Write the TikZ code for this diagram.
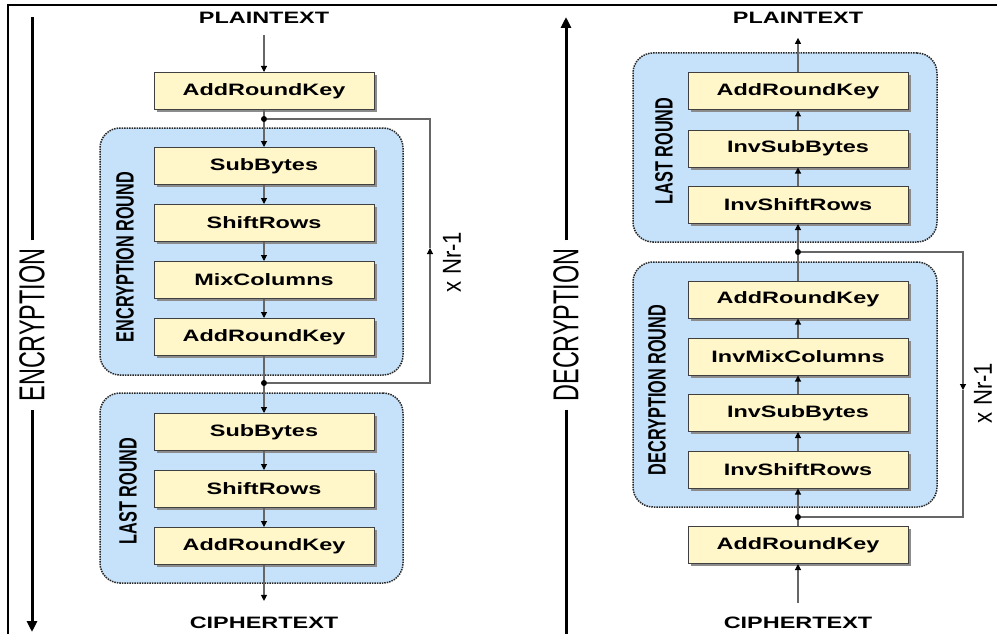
\documentclass[tikz,border=0pt]{standalone}
\usepackage{fontspec}
\setmainfont{Liberation Sans}
\newfontfamily\widefont[FakeStretch=1.42]{Liberation Sans}
\newfontfamily\narrowfont[FakeStretch=0.65]{Liberation Sans}
\newfontfamily\nrfont[FakeStretch=0.85]{Liberation Sans}
\usepackage{tikz}
\usetikzlibrary{arrows.meta,shadows}
\definecolor{stepfill}{HTML}{FFF6CA}
\definecolor{roundfill}{HTML}{C6E2FA}
\tikzset{
    Stepbox/.style = {draw=black!75, line width=1pt, fill=stepfill,
        minimum width=220pt, minimum height=37pt, inner sep=0pt,
        font=\widefont\bfseries\fontsize{16.5}{16.5}\selectfont,
        drop shadow={shadow xshift=2.5pt, shadow yshift=-2.5pt, fill=black!45, opacity=1}},
    Round/.style = {draw=black!85, fill=roundfill, densely dotted, line width=1.5pt,
        rounded corners=20pt, inner sep=0pt},
    Line/.style = {draw=black!60, line width=1.1pt},
    Flow/.style = {Line, -{Triangle[length=6pt,width=6pt,color=black]}},
    Junction/.style = {fill=black, circle, inner sep=0pt, minimum size=6pt},
    Io/.style = {inner sep=8pt, font=\widefont\bfseries\fontsize{16.5}{16.5}\selectfont},
    Rlabel/.style = {rotate=90, inner sep=0pt, font=\narrowfont\bfseries\fontsize{25}{25}\selectfont},
    Side/.style = {rotate=90, inner sep=8pt, font=\narrowfont\fontsize{36}{36}\selectfont},
    Nr/.style = {rotate=90, inner sep=0pt, font=\nrfont\fontsize{26}{26}\selectfont},
    Big/.style = {line width=3pt, draw=black}
}
\begin{document}
\begin{tikzpicture}[x=1pt,y=-1pt]
\useasboundingbox (0,0) rectangle (997,634);
% frame
\draw[line width=2.5pt] (997,5) -- (8,5) -- (8,634);

% ---------- encryption ----------
\node[Round, minimum width=303pt, minimum height=247pt] (encround) at (251.5,251.5) {};
\node[Round, minimum width=303pt, minimum height=190pt] (lastround1) at (251.5,488) {};
\node[Rlabel] (enclbl) at (125,257) {ENCRYPTION ROUND};
\node[Rlabel] (lastlbl1) at (128,491) {LAST ROUND};

\node[Io] (pt1) at (264,18) {PLAINTEXT};
\node[Stepbox] (ark0) at (264,91) {AddRoundKey};
\foreach \name/\y/\txt in {sb1/166/SubBytes, sr1/223/ShiftRows, mc1/280/MixColumns,
    ark1/337/AddRoundKey, sb2/432/SubBytes, sr2/489/ShiftRows, ark2/546/AddRoundKey}
    {\node[Stepbox] (\name) at (264,\y) {\txt};}
\node[Io] (ct1) at (264,623) {CIPHERTEXT};

\draw[Flow, shorten <=3pt] (pt1) -- (ark0);
\foreach \a/\b in {ark0/sb1, sb1/sr1, sr1/mc1, mc1/ark1, ark1/sb2, sb2/sr2, sr2/ark2}
    {\draw[Flow] (\a) -- (\b);}
\draw[Flow, shorten >=8pt] (ark2) -- (ct1);

% loop
\node[Junction] (j1) at (264,119) {};
\node[Junction] (j2) at (264,383) {};
\coordinate (lp1) at (430,248);
\draw[Flow] (j2) -| (lp1);
\draw[Line] (lp1) |- (j1);
\node[Nr] (nr1) at (452,262) {x Nr-1};

\node[Side] (enc) at (32,325) {ENCRYPTION};
\coordinate (etop) at (32,17);
\coordinate (ebot) at (32,632);
\draw[Big] (enc.east) -- (etop);
\draw[Big, -{Triangle[length=11pt,width=10pt]}] (enc.west) -- (ebot);

% ---------- decryption ----------
\node[Round, minimum width=304pt, minimum height=189pt] (lastround2) at (785,147.5) {};
\node[Round, minimum width=304pt, minimum height=245pt] (decround) at (785,384.5) {};
\node[Rlabel] (lastlbl2) at (664,151) {LAST ROUND};
\node[Rlabel] (declbl) at (657,390) {DECRYPTION ROUND};

\node[Io] (pt2) at (798,18) {PLAINTEXT};
\foreach \name/\y/\txt in {dark2/91.5/AddRoundKey, dsb2/148.5/InvSubBytes, dsr2/205/InvShiftRows,
    dark1/299.5/AddRoundKey, dmc1/356.5/InvMixColumns, dsb1/413/InvSubBytes,
    dsr1/469.5/InvShiftRows, dark0/545/AddRoundKey}
    {\node[Stepbox] (\name) at (798,\y) {\txt};}
\node[Io] (ct2) at (798,623) {CIPHERTEXT};

\draw[Flow, shorten <=6pt] (ct2) -- (dark0);
\foreach \a/\b in {dark0/dsr1, dsr1/dsb1, dsb1/dmc1, dmc1/dark1, dark1/dsr2, dsr2/dsb2, dsb2/dark2}
    {\draw[Flow] (\a) -- (\b);}
\draw[Flow, shorten >=6pt] (dark2) -- (pt2);

% loop
\node[Junction] (j3) at (798,252) {};
\node[Junction] (j4) at (798,517) {};
\coordinate (lp2) at (963,390);
\draw[Flow] (j3) -| (lp2);
\draw[Line] (lp2) |- (j4);
\node[Nr] (nr2) at (983,393) {x Nr-1};

\node[Side] (dec) at (566,325) {DECRYPTION};
\coordinate (dtop) at (566,17);
\coordinate (dbot) at (566,634);
\draw[Big, -{Triangle[length=11pt,width=10pt]}] (dec.east) -- (dtop);
\draw[Big] (dec.west) -- (dbot);
\end{tikzpicture}
\end{document}
